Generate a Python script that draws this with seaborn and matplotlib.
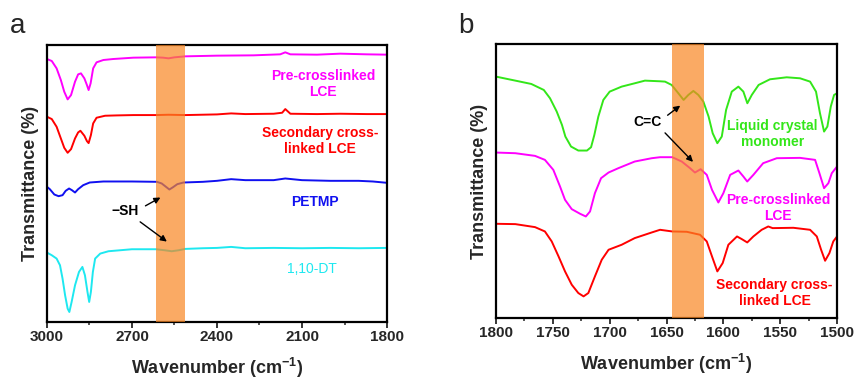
import matplotlib
matplotlib.use("Agg")
import matplotlib.pyplot as plt
from matplotlib.ticker import MultipleLocator
import seaborn as sns
import pandas as pd

# ---------------- data: panel a ----------------
wn_pre_a = [3000, 2983, 2966, 2951, 2939, 2927, 2915, 2901, 2890, 2880, 2868, 2859, 2853, 2846,
            2837, 2825, 2801, 2766, 2695, 2615, 2590, 2571, 2550, 2512, 2401, 2271, 2177, 2159,
            2141, 2047, 1965, 1871, 1800]
t_pre_a = [82.3, 81.7, 79.5, 76.0, 72.5, 70.2, 71.5, 75.5, 77.7, 78.0, 76.5, 74.5, 73.0, 75.0,
           79.5, 81.3, 82.0, 82.3, 82.7, 82.8, 82.7, 82.5, 82.8, 83.1, 83.3, 83.4, 83.7, 84.3,
           83.7, 83.6, 83.9, 83.7, 83.6]

wn_sec_a = [3000, 2983, 2966, 2951, 2939, 2927, 2915, 2901, 2890, 2882, 2868, 2859, 2853, 2845,
            2837, 2825, 2795, 2754, 2695, 2615, 2571, 2512, 2400, 2350, 2300, 2200, 2170, 2159,
            2141, 2047, 1965, 1871, 1800]
t_sec_a = [65.0, 64.3, 62.0, 58.5, 55.7, 54.2, 55.3, 58.5, 60.3, 60.8, 59.3, 57.7, 57.1, 59.5,
           63.0, 64.7, 65.3, 65.4, 65.5, 65.5, 65.6, 65.5, 65.7, 66.0, 65.8, 65.9, 66.2, 67.3,
           65.9, 65.8, 65.9, 65.8, 65.8]

wn_petmp = [3000, 2990, 2974, 2959, 2945, 2934, 2922, 2912, 2901, 2890, 2872, 2849, 2801, 2700,
            2612, 2595, 2580, 2568, 2555, 2540, 2518, 2450, 2400, 2350, 2300, 2200, 2159, 2100,
            2000, 1900, 1850, 1800]
t_petmp = [44.0, 43.3, 41.7, 41.2, 41.5, 42.8, 43.5, 43.0, 42.3, 43.3, 44.5, 45.3, 45.6, 45.6,
           45.5, 45.0, 44.0, 43.2, 43.9, 44.8, 45.3, 45.5, 45.8, 46.3, 46.0, 46.0, 46.5, 46.0,
           45.8, 45.8, 45.6, 45.2]

wn_dt = [3000, 2983, 2966, 2954, 2945, 2936, 2927, 2921, 2913, 2901, 2887, 2875, 2866, 2857,
         2851, 2845, 2838, 2830, 2812, 2783, 2700, 2615, 2585, 2560, 2535, 2512, 2450, 2400,
         2350, 2300, 2200, 2100, 2000, 1900, 1800]
t_dt = [24.3, 23.5, 22.5, 20.5, 16.5, 11.5, 7.5, 6.5, 9.5, 14.5, 18.5, 20.0, 17.5, 12.5,
        9.5, 12.5, 18.5, 22.5, 24.0, 24.7, 25.3, 25.3, 25.0, 24.7, 25.0, 25.4, 25.6, 25.7,
        26.0, 25.6, 25.7, 25.6, 25.7, 25.6, 25.7]

# ---------------- data: panel b ----------------
wn_lcm = [1800, 1783, 1769, 1758, 1752.5, 1746.6, 1742, 1739, 1734, 1727.6, 1720, 1716.4, 1713.5,
          1710, 1705.6, 1700, 1689.5, 1678, 1669, 1655.7, 1651.3, 1645.5, 1639.6, 1635, 1630.8,
          1626.4, 1622, 1617.6, 1613, 1609.4, 1605.3, 1601.4, 1597.6, 1592.6, 1586.8, 1582.4,
          1578.9, 1575, 1569, 1559, 1544.3, 1532.5, 1523.7, 1518.5, 1515, 1511.4, 1508.5,
          1505.5, 1502.6, 1500]
t_lcm = [77.0, 75.8, 74.8, 73.0, 70.5, 66.5, 62.5, 59.0, 56.0, 54.8, 54.8, 55.8, 59.5,
         65.0, 70.0, 72.5, 74.0, 75.0, 75.8, 75.6, 75.5, 74.5, 72.0, 70.0, 71.5,
         72.7, 71.5, 69.5, 65.0, 60.0, 57.0, 59.0, 67.0, 72.5, 74.0, 72.5,
         69.0, 71.5, 74.5, 76.2, 76.8, 76.5, 75.5, 72.5, 66.0, 60.5, 62.0,
         68.0, 71.5, 72.0]

wn_pre_b = [1800, 1783, 1765.7, 1757, 1749.6, 1743.7, 1739.3, 1733.4, 1726, 1721, 1717.3, 1713,
            1707.6, 1701, 1692.4, 1678, 1663, 1655.7, 1645, 1636.6, 1629.3, 1625, 1620, 1614.6,
            1610, 1604.4, 1600, 1594, 1586.8, 1582.4, 1579, 1573.6, 1565, 1553, 1532.5, 1519.3,
            1515.5, 1511.4, 1507.6, 1504.6, 1500]
t_pre_b = [54.2, 54.0, 53.2, 52.0, 49.0, 44.0, 40.0, 37.2, 35.8, 35.0, 36.5, 42.0,
           46.5, 48.2, 49.5, 51.5, 52.5, 52.8, 52.8, 51.5, 49.5, 48.2, 49.2, 47.5,
           43.0, 39.2, 42.0, 47.5, 48.8, 47.0, 45.5, 47.5, 51.0, 52.5, 52.6, 52.0,
           48.0, 43.5, 45.0, 48.0, 50.0]

wn_sec_b = [1800, 1783, 1765.7, 1757, 1751, 1745, 1739.3, 1733.4, 1727.6, 1723, 1718.8, 1713,
            1707, 1701, 1689.5, 1678, 1663, 1655.7, 1645, 1632.2, 1620.5, 1614.6, 1610, 1605.3,
            1600.6, 1595.6, 1588, 1583.8, 1579, 1573.6, 1566.3, 1560.5, 1556.7, 1538.4, 1523.7,
            1517.8, 1514, 1510.5, 1506.7, 1503.3, 1500]
t_sec_b = [32.8, 32.7, 31.8, 30.5, 27.5, 23.0, 18.5, 14.5, 12.0, 11.0, 12.0, 17.0,
           22.0, 25.0, 26.5, 28.5, 30.2, 31.0, 30.5, 30.4, 29.5, 27.5, 23.0, 18.5,
           21.0, 26.5, 29.0, 28.2, 27.2, 29.0, 31.0, 32.0, 31.5, 31.6, 31.0,
           29.0, 25.0, 21.7, 24.0, 27.5, 29.0]

xticks_a = [3000, 2700, 2400, 2100, 1800]
xticks_b = [1800, 1750, 1700, 1650, 1600, 1550, 1500]
band_a = (2615, 2513)
band_b = (1645, 1617)

MAGENTA = "#ff00ff"
RED = "#ff0000"
BLUE = "#1010f0"
CYAN = "#1ee8f0"
GREEN = "#33e619"
ORANGE = "#f88622"

sns.set_style("ticks")
plt.rcParams["font.family"] = ["Liberation Sans", "DejaVu Sans"]
plt.rcParams["mathtext.default"] = "regular"

fig = plt.figure(figsize=(8.57, 3.79), dpi=100)
axa = fig.add_axes([0.0548, 0.1504, 0.3968, 0.7309])
axb = fig.add_axes([0.5788, 0.1609, 0.3979, 0.7230])

LW = 1.4


def draw(ax, x, y, color):
    df = pd.DataFrame({"wn": x, "t": y})
    sns.lineplot(data=df, x="wn", y="t", ax=ax, color=color, lw=LW,
                 sort=False, estimator=None, solid_joinstyle="round")


draw(axa, wn_pre_a, t_pre_a, MAGENTA)
draw(axa, wn_sec_a, t_sec_a, RED)
draw(axa, wn_petmp, t_petmp, BLUE)
draw(axa, wn_dt, t_dt, CYAN)

draw(axb, wn_lcm, t_lcm, GREEN)
draw(axb, wn_pre_b, t_pre_b, MAGENTA)
draw(axb, wn_sec_b, t_sec_b, RED)

axa.set_xlim(3000, 1800)
axa.set_ylim(3.5, 86.5)
axb.set_xlim(1800, 1500)
axb.set_ylim(4.5, 86.8)

axa.axvspan(*band_a, color=ORANGE, alpha=0.7, lw=0, zorder=3)
axb.axvspan(*band_b, color=ORANGE, alpha=0.7, lw=0, zorder=3)

for ax, ticks, minor in ((axa, xticks_a, 150), (axb, xticks_b, 25)):
    ax.set_xticks(ticks)
    ax.xaxis.set_minor_locator(MultipleLocator(minor))
    ax.set_yticks([])
    ax.tick_params(axis="x", which="major", direction="out", length=4, width=1.3,
                   labelsize=11, pad=2)
    ax.tick_params(axis="x", which="minor", direction="out", length=2.5, width=1.1)
    for lab in ax.get_xticklabels():
        lab.set_fontweight("bold")
    for sp in ax.spines.values():
        sp.set_visible(True)
        sp.set_linewidth(1.6)
        sp.set_color("black")
    ax.set_xlabel("Wavenumber (cm$^{-1}$)", fontsize=13, fontweight="bold", labelpad=8)
    ax.set_ylabel("Transmittance (%)", fontsize=13, fontweight="bold", labelpad=6)

tk = dict(fontsize=10, fontweight="bold", ha="center", va="center", linespacing=1.15)
axa.text(2026, 74.8, "Pre-crosslinked\nLCE", color=MAGENTA, **tk)
axa.text(2036, 57.7, "Secondary cross-\nlinked LCE", color=RED, **tk)
axa.text(2054, 39.4, "PETMP", color=BLUE, **tk)
axa.text(2065, 19.3, "1,10-DT", color=CYAN, fontsize=10, ha="center", va="center")
axa.text(2725, 36.7, "\u2212SH", color="black", fontsize=10, fontweight="bold",
         ha="center", va="center", zorder=6)
ap = dict(arrowstyle="-|>", color="black", lw=1.0, mutation_scale=9)
axa.annotate("", xy=(2591, 41.2), xytext=(2661, 37.9), arrowprops=ap, zorder=6)
axa.annotate("", xy=(2569, 27.1), xytext=(2679, 34.0), arrowprops=ap, zorder=6)

axb.text(1557, 59.8, "Liquid crystal\nmonomer", color=GREEN, **tk)
axb.text(1552, 37.6, "Pre-crosslinked\nLCE", color=MAGENTA, **tk)
axb.text(1555, 12.0, "Secondary cross-\nlinked LCE", color=RED, **tk)
axb.text(1667, 63.4, "C=C", color="black", fontsize=10, fontweight="bold",
         ha="center", va="center", zorder=6)
axb.annotate("", xy=(1636, 68.8), xytext=(1651, 64.9), arrowprops=ap, zorder=6)
axb.annotate("", xy=(1625, 50.8), xytext=(1653, 60.7), arrowprops=ap, zorder=6)

fig.text(18 / 857, 1 - 26 / 379, "a", fontsize=20, ha="center", va="center")
fig.text(466 / 857, 1 - 26 / 379, "b", fontsize=20, ha="center", va="center")

fig.savefig("out.png", dpi=100)
